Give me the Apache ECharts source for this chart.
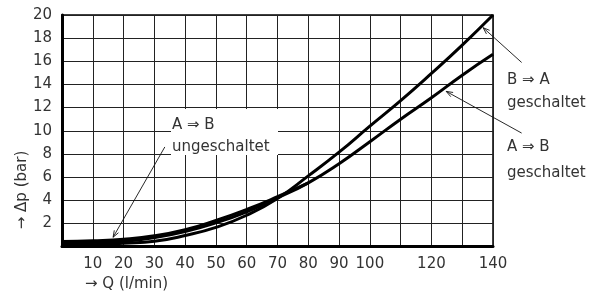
<!DOCTYPE html>
<html>
<head>
<meta charset="utf-8">
<script src="https://cdn.jsdelivr.net/npm/echarts@6/dist/echarts.min.js"></script>
<style>
  html, body { margin: 0; padding: 0; background: #fff; }
  #chart { width: 601px; height: 298px; }
</style>
</head>
<body>
<div id="chart"></div>
<script>
// flow Q in l/min
var q = [0, 10, 20, 30, 40, 50, 60, 70, 80, 90, 100, 110, 120, 130, 140];
var qUng = [0, 10, 20, 30, 40, 50, 60, 70, 80];
// pressure drop in bar
var dpBA = [0.1, 0.15, 0.28, 0.45, 0.95, 1.65, 2.7, 4.15, 6.1, 8.15, 10.4, 12.6, 14.95, 17.4, 20];
var dpAB = [0.3, 0.35, 0.45, 0.77, 1.3, 2.05, 3.0, 4.2, 5.5, 7.15, 9.05, 11.0, 12.85, 14.8, 16.6];
var dpUng = [0.43, 0.5, 0.63, 0.92, 1.45, 2.25, 3.2, 4.3, 5.5];
var qLabels = [10, 20, 30, 40, 50, 60, 70, 80, 90, 100, 120, 140];
var dpLabels = [2, 4, 6, 8, 10, 12, 14, 16, 18, 20];

var FONT = 'DejaVu Sans';
var TXT = '#333';

function pairs(xs, ys) {
  return xs.map(function (x, i) { return [x, ys[i]]; });
}

var chart = echarts.init(document.getElementById('chart'));

function lineSeries(name, data) {
  return {
    name: name,
    type: 'line',
    data: data,
    smooth: 0.5,
    symbol: 'none',
    lineStyle: { color: '#000', width: 3 },
    z: 5
  };
}

var option = {
  backgroundColor: '#fff',
  animation: false,
  grid: {
    left: 62, right: 108, top: 15, bottom: 51.5,
    show: true, borderColor: '#000', borderWidth: 1.5
  },
  xAxis: {
    type: 'value', min: 0, max: 140, interval: 10,
    axisLine: { show: true, lineStyle: { color: '#000', width: 3 } },
    axisTick: { show: false },
    splitLine: { show: true, lineStyle: { color: '#222', width: 1 } },
    axisLabel: {
      margin: 10, color: TXT, fontFamily: FONT, fontSize: 15,
      formatter: function (v) { return qLabels.indexOf(v) >= 0 ? String(v) : ''; }
    }
  },
  yAxis: {
    type: 'value', min: 0, max: 20, interval: 2,
    axisLine: { show: true, lineStyle: { color: '#000', width: 3 } },
    axisTick: { show: false },
    splitLine: { show: true, lineStyle: { color: '#222', width: 1 } },
    axisLabel: {
      margin: 10, color: TXT, fontFamily: FONT, fontSize: 15,
      formatter: function (v) { return dpLabels.indexOf(v) >= 0 ? String(v) : ''; }
    }
  },
  series: [
    lineSeries('B ⇒ A geschaltet', pairs(q, dpBA)),
    lineSeries('A ⇒ B geschaltet', pairs(q, dpAB)),
    lineSeries('A ⇒ B ungeschaltet', pairs(qUng, dpUng))
  ]
};
chart.setOption(option);

// leader lines: [from (label side), to (curve)] in data units
var leaders = [
  [[33.4, 8.6], [16.6, 0.8]],
  [[149.3, 15.9], [136.8, 18.9]],
  [[149.3, 9.8], [124.8, 13.4]]
];

function leaderGraphics(from, to) {
  var a = chart.convertToPixel({ gridIndex: 0 }, from);
  var b = chart.convertToPixel({ gridIndex: 0 }, to);
  var ang = Math.atan2(a[1] - b[1], a[0] - b[0]);
  var len = 7, spread = 0.35;
  var h1 = [b[0] + len * Math.cos(ang + spread), b[1] + len * Math.sin(ang + spread)];
  var h2 = [b[0] + len * Math.cos(ang - spread), b[1] + len * Math.sin(ang - spread)];
  var st = { stroke: '#111', lineWidth: 0.9, fill: null };
  return [
    { type: 'polyline', shape: { points: [a, b] }, style: st, z: 20 },
    { type: 'polyline', shape: { points: [h1, b, h2] }, style: st, z: 20 }
  ];
}

var g = [];
// white patch behind the inner label
g.push({ type: 'rect', shape: { x: 171, y: 109, width: 107, height: 46 }, style: { fill: '#fff' }, z: 10 });

function txt(x, y, s) {
  return {
    type: 'text', x: x, y: y, z: 21,
    style: { text: s, fill: TXT, font: '15px "' + FONT + '"', textAlign: 'left', textVerticalAlign: 'middle' }
  };
}
g.push(txt(172, 125, 'A ⇒ B'));
g.push(txt(172, 147, 'ungeschaltet'));
g.push(txt(507, 80, 'B ⇒ A'));
g.push(txt(507, 103, 'geschaltet'));
g.push(txt(507, 147, 'A ⇒ B'));
g.push(txt(507, 173, 'geschaltet'));
g.push(txt(85, 284, '→ Q (l/min)'));
g.push({
  type: 'text', x: 22, y: 190, rotation: Math.PI / 2, z: 21,
  style: { text: '→ Δp (bar)', fill: TXT, font: '15px "' + FONT + '"', textAlign: 'center', textVerticalAlign: 'middle' }
});

leaders.forEach(function (l) { g = g.concat(leaderGraphics(l[0], l[1])); });

chart.setOption({ graphic: g });
</script>
</body>
</html>
